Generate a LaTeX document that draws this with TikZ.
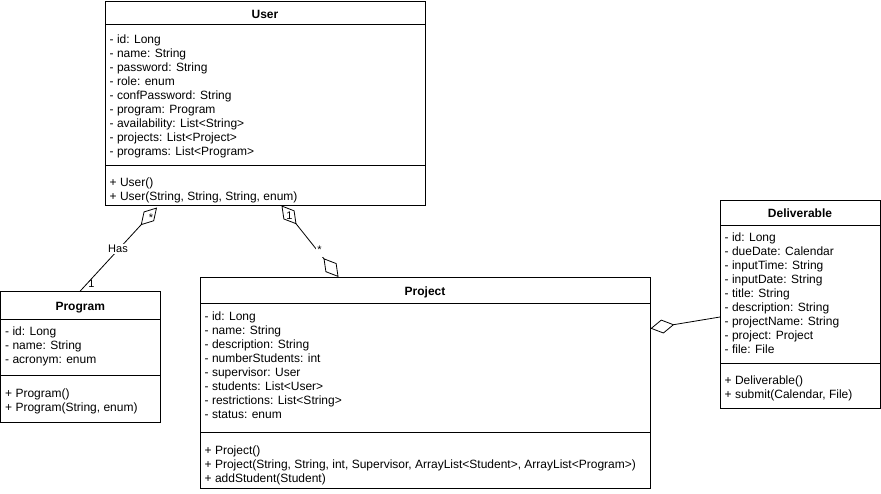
\documentclass[tikz,border=0pt]{standalone}
\usepackage{fontspec}
\setmainfont{Liberation Sans}
\usetikzlibrary{arrows.meta}
\begin{document}
\begin{tikzpicture}[x=1pt,y=-1pt,
  classbox/.style={draw=black, line width=1pt, fill=white, anchor=north west, inner sep=0pt, outer sep=0pt},
  ctitle/.style={font=\fontsize{12}{14}\selectfont\bfseries, inner sep=0pt, anchor=base},
  ctext/.style={font=\fontsize{12}{14}\selectfont, align=left, anchor=north west, inner sep=0pt},
  sepline/.style={line width=1pt},
  conn/.style={line width=0.8pt, draw=black},
  aggstart/.style={{Diamond[open,length=24pt,width=14pt]}-},
  aggboth/.style={{Diamond[open,length=24pt,width=14pt]}-{Diamond[open,length=24pt,width=14pt]}},
  elabel/.style={font=\fontsize{11}{13}\selectfont, inner sep=0pt, anchor=base}
]
\useasboundingbox (0,0) rectangle (881,493);

% ---------- User ----------
\node[classbox, minimum width=320pt, minimum height=204pt] (user) at (105,1) {};
\draw[sepline] (user.west |- 0,24.5) -- (user.east |- 0,24.5);
\draw[sepline] (user.west |- 0,165) -- (user.east |- 0,165);
\node[ctitle] (userT) at (265,18.3) {User};
\node[ctext] (userA) at (109.5,33.7) {\strut - id: Long\\- name: String\\- password: String\\- role: enum\\- confPassword: String\\- program: Program\\- availability: List<String>\\- projects: List<Project>\\- programs: List<Program>};
\node[ctext] (userM) at (109.5,176.4) {\strut + User()\\+ User(String, String, String, enum)};

% ---------- Program ----------
\node[classbox, minimum width=159.5pt, minimum height=131.5pt] (program) at (0.5,291) {};
\draw[sepline] (program.west |- 0,319.5) -- (program.east |- 0,319.5);
\draw[sepline] (program.west |- 0,375.5) -- (program.east |- 0,375.5);
\node[ctitle] (programT) at (80.25,310.3) {Program};
\node[ctext] (programA) at (5,325) {\strut - id: Long\\- name: String\\- acronym: enum};
\node[ctext] (programM) at (5,387.5) {\strut + Program()\\+ Program(String, enum)};

% ---------- Project ----------
\node[classbox, minimum width=450pt, minimum height=211.5pt] (project) at (200,277) {};
\draw[sepline] (project.west |- 0,303) -- (project.east |- 0,303);
\draw[sepline] (project.west |- 0,432.5) -- (project.east |- 0,432.5);
\node[ctitle] (projectT) at (425,295.3) {Project};
\node[ctext] (projectA) at (204.5,310.7) {\strut - id: Long\\- name: String\\- description: String\\- numberStudents: int\\- supervisor: User\\- students: List<User>\\- restrictions: List<String>\\- status: enum};
\node[ctext] (projectM) at (204.5,444.7) {\strut + Project()\\+ Project(String, String, int, Supervisor, ArrayList<Student>, ArrayList<Program>)\\+ addStudent(Student)};

% ---------- Deliverable ----------
\node[classbox, minimum width=160pt, minimum height=208pt] (deliv) at (720,200) {};
\draw[sepline] (deliv.west |- 0,225.5) -- (deliv.east |- 0,225.5);
\draw[sepline] (deliv.west |- 0,363.5) -- (deliv.east |- 0,363.5);
\node[ctitle] (delivT) at (800,217) {Deliverable};
\node[ctext] (delivA) at (724.5,231.7) {\strut - id: Long\\- dueDate: Calendar\\- inputTime: String\\- inputDate: String\\- title: String\\- description: String\\- projectName: String\\- project: Project\\- file: File};
\node[ctext] (delivM) at (724.5,374.7) {\strut + Deliverable()\\+ submit(Calendar, File)};

% ---------- Connectors ----------
\coordinate (hasU) at (157,207.5);
\draw[conn, aggstart] (hasU) -- (program.north);

\coordinate (upU) at (281.5,205.5);
\coordinate (upP) at (338.5,277);
\draw[conn, aggboth] (upU) -- (upP);

\coordinate (pdP) at (650.5,328.5);
\coordinate (pdD) at (720,317);
\draw[conn, aggstart] (pdP) -- (pdD);

% ---------- Labels ----------
\node[elabel, anchor=center, fill=white, inner sep=1pt] (hasLbl) at (118,249) {Has};
\node[elabel] (multA) at (151,221.3) {*};
\node[elabel] (multB) at (91.5,287.3) {1};
\node[elabel] (multC) at (289.5,219) {1};
\node[elabel, fill=white, inner xsep=1.5pt, inner ysep=0pt, text height=8pt, text depth=4pt] (multD) at (319.5,253.3) {*};
\end{tikzpicture}
\end{document}
